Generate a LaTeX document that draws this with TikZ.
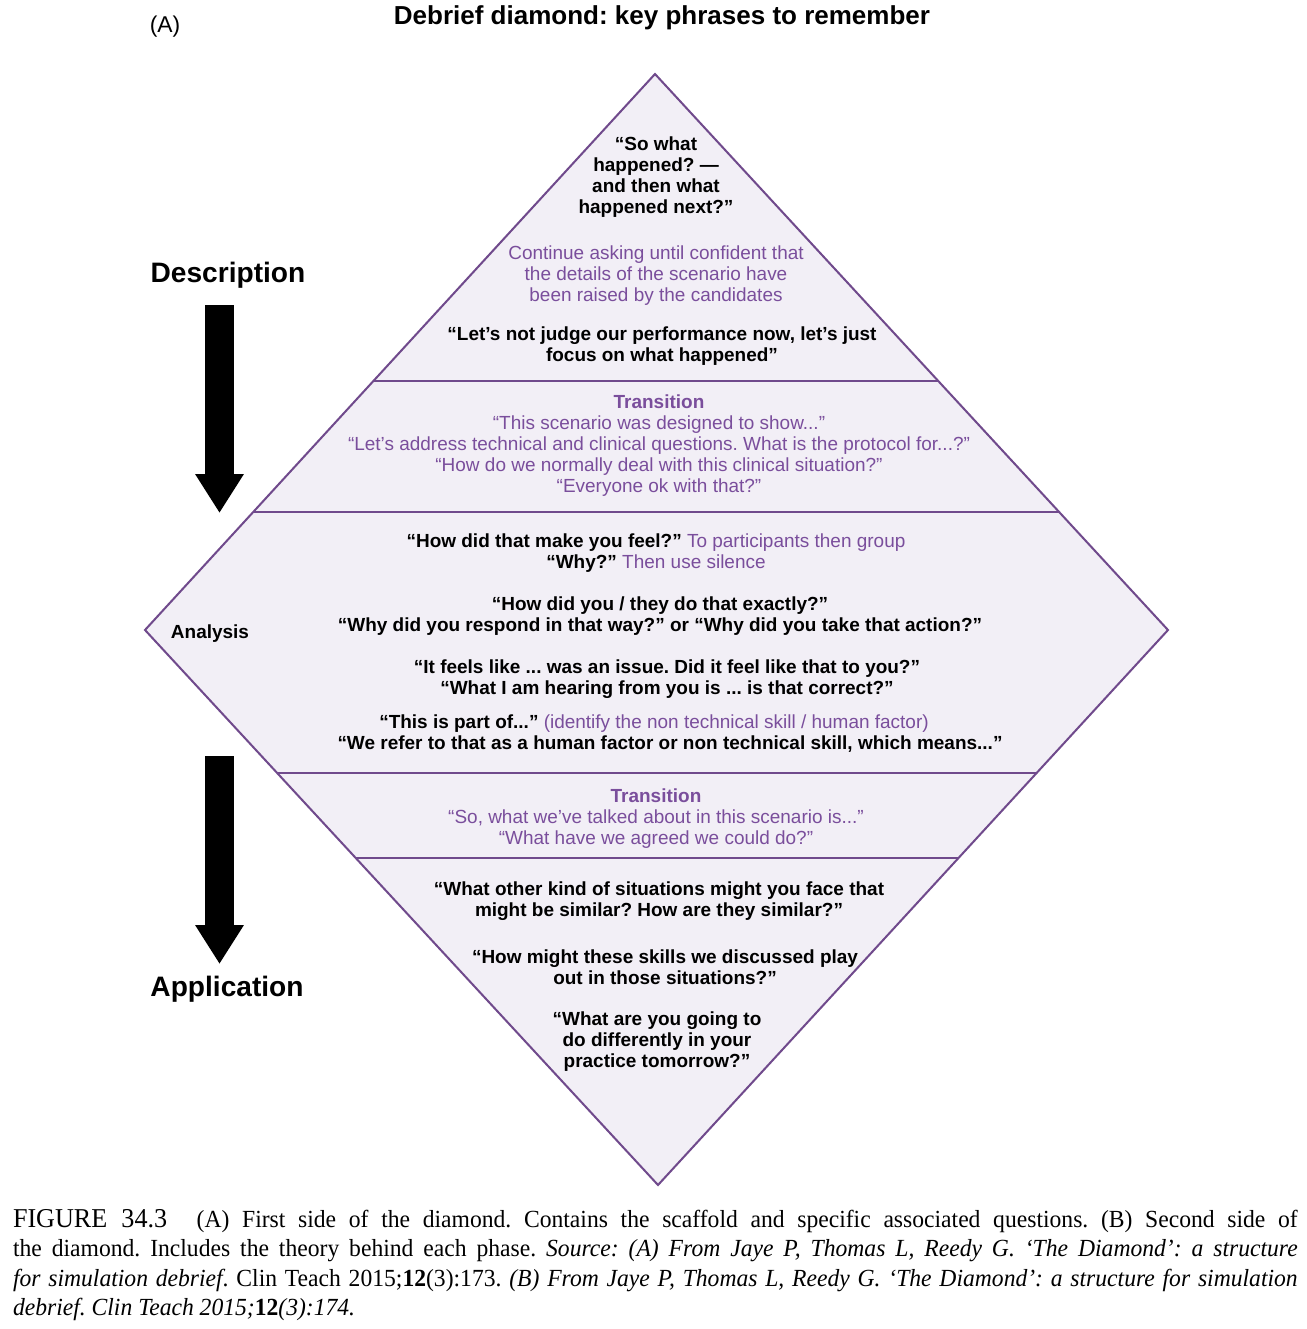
\documentclass[tikz,border=0pt]{standalone}
\usepackage{fontspec}
\setmainfont{Liberation Sans}
\newfontfamily\capfont[FakeStretch=0.96]{Liberation Serif}
\usetikzlibrary{arrows.meta}
\definecolor{dmdline}{HTML}{704A8C}
\definecolor{dmdfill}{HTML}{F2EFF6}
\definecolor{dmdtext}{HTML}{7A4E9C}

\begin{document}
\frenchspacing
\begin{tikzpicture}[x=0.02cm, y=-0.02cm,
  every node/.style={inner sep=0pt, outer sep=0pt, align=center, font=\fontsize{10.8}{11.95}\selectfont},
  quote/.style={font=\fontsize{10.8}{11.95}\selectfont\bfseries},
  note/.style={text=dmdtext},
  phase/.style={font=\fontsize{16}{19}\selectfont\bfseries},
  band/.style={dmdline, line width=1.3pt},
  bigarrow/.style={line width=0.58cm, -{Triangle[length=0.78cm, width=0.92cm]}}]
\useasboundingbox (0,0) rectangle (1306,1329);

\coordinate (top) at (655,74);
\coordinate (left) at (145,630);
\coordinate (right) at (1168,630);
\coordinate (bottom) at (658,1185);
\draw[dmdline, fill=dmdfill, line width=1.15pt] (top) -- (right) -- (bottom) -- (left) -- cycle;

\coordinate (b1l) at (373,381);
\coordinate (b1r) at (938,381);
\coordinate (b2l) at (253,512);
\coordinate (b2r) at (1059,512);
\coordinate (b3l) at (277,773);
\coordinate (b3r) at (1036,773);
\coordinate (b4l) at (356,858);
\coordinate (b4r) at (958,858);
\draw[band] (b1l) -- (b1r);
\draw[band] (b2l) -- (b2r);
\draw[band] (b3l) -- (b3r);
\draw[band] (b4l) -- (b4r);

\node (label) at (165,27) {\fontsize{13}{15}\selectfont (A)};
\node (title) at (662,18) {\fontsize{14.8}{17}\selectfont\bfseries Debrief diamond: key phrases to remember};

\node[phase] (desc) at (228,275) {Description};
\node[phase] (appl) at (227,989) {Application};
\coordinate (descfrom) at (219.5,305);
\coordinate (descto) at (219.5,513);
\coordinate (applfrom) at (219.5,756);
\coordinate (applto) at (219.5,964);
\draw[bigarrow] (descfrom) -- (descto);
\draw[bigarrow] (applfrom) -- (applto);

\node[quote] (anal) at (210,634) {Analysis};

\node[quote] (sowhat) at (656,177.5) {“So what\\happened? —\\and then what\\happened next?”};
\node[note] (cont) at (656,276) {Continue asking until confident that\\the details of the scenario have\\been raised by the candidates};
\node[quote] (judge) at (662,346) {“Let’s not judge our performance now, let’s just\\focus on what happened”};

\node[note] (trans1) at (659,446) {\textbf{Transition}\\“This scenario was designed to show...”\\“Let’s address technical and clinical questions. What is the protocol for...?”\\“How do we normally deal with this clinical situation?”\\“Everyone ok with that?”};

\node (feel) at (656,553) {\textbf{“How did that make you feel?”} {\color{dmdtext}To participants then group}\\\textbf{“Why?”} {\color{dmdtext}Then use silence}};
\node[quote] (exact) at (660,616) {“How did you / they do that exactly?”\\“Why did you respond in that way?” or “Why did you take that action?”};
\node[quote] (issue) at (667,679) {“It feels like ... was an issue. Did it feel like that to you?”\\“What I am hearing from you is ... is that correct?”};
\node (part) at (670,734) {\textbf{“This is part of...”} {\color{dmdtext}(identify the non technical skill / human factor)}\hspace*{0.64cm}\\\textbf{“We refer to that as a human factor or non technical skill, which means...”}};

\node[note] (trans2) at (656,818.5) {\textbf{Transition}\\“So, what we’ve talked about in this scenario is...”\\“What have we agreed we could do?”};

\node[quote] (similar) at (659,901) {“What other kind of situations might you face that\\might be similar? How are they similar?”};
\node[quote] (play) at (665,967.5) {“How might these skills we discussed play\\out in those situations?”};
\node[quote] (tomorrow) at (657,1041.5) {“What are you going to\\do differently in your\\practice tomorrow?”};

\node[anchor=north west, align=justify, text width=25.7cm, font=\capfont\fontsize{14}{16.8}\selectfont\frenchspacing] (caption) at (13,1209) {{\fontsize{15.5}{16.8}\selectfont FIGURE 34.3}\hspace{1.2em}(A) First side of the diamond. Contains the scaffold and specific associated questions. (B) Second side of\linebreak
the diamond. Includes the theory behind each phase. \textit{Source: (A) From Jaye P, Thomas L, Reedy G. ‘The Diamond’: a structure}\linebreak
\textit{for simulation debrief}. Clin Teach 2015;\textbf{12}(3):173. \textit{(B) From Jaye P, Thomas L, Reedy G. ‘The Diamond’: a structure for simulation}\linebreak
\textit{debrief. Clin Teach 2015;}\textbf{12}\textit{(3):174.}};
\end{tikzpicture}
\end{document}
